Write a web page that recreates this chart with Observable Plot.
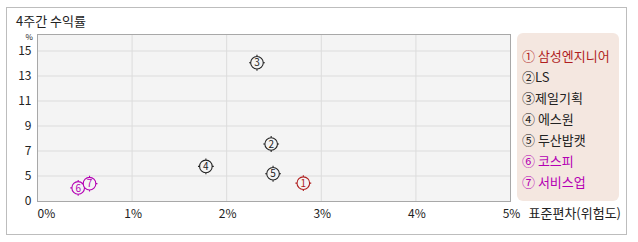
<!DOCTYPE html>
<html><head><meta charset="utf-8">
<script src="https://cdn.jsdelivr.net/npm/d3@7"></script>
<script src="https://cdn.jsdelivr.net/npm/@observablehq/plot@0.6"></script>
<style>
body{margin:0;background:#fff;font-family:"Noto Sans CJK KR","Noto Sans",sans-serif;}
#wrap{position:relative;width:638px;height:242px;overflow:hidden}
#frame{position:absolute;left:6px;top:7px;width:621px;height:228px;border:1px solid #bdbdbd;box-sizing:border-box}
#title{position:absolute;left:16px;top:14px;font-size:13px;color:#222;line-height:13px;height:13px}
#chart{position:absolute;left:0;top:0}
#legend{position:absolute;left:517px;top:33px;width:102px;height:168px;background:#f4e7e0;border-radius:6px;box-sizing:border-box;padding-top:12px}
#legend div{font-size:13px;line-height:21px;height:21px;padding-left:5px;white-space:nowrap}
</style></head>
<body>
<div id="wrap">
  <div id="frame"></div>
  <div id="title">4주간 수익률</div>
  <div id="chart"></div>
  <div id="legend"></div>
</div>
<script>
const names = ["삼성엔지니어","LS","제일기획","에스원","두산밥캣","코스피","서비스업"];
const marks = ["①","②","③","④","⑤","⑥","⑦"];
const digits = ["1","2","3","4","5","6","7"];
const groups = ["focus","peer","peer","peer","peer","market","market"];
const risk = [2.81, 2.47, 2.32, 1.78, 2.49, 0.43, 0.55];
const ret  = [3.6, 7.56, 14.06, 5.77, 5.18, 2.67, 3.5];
const xTicks = [0, 1, 2, 3, 4, 5];
const yTicks = [0, 5, 7, 9, 11, 13, 15];
const xTitle = "표준편차(위험도)";
const yUnit = "%";

const groupDomain = ["focus","peer","market"];
const groupColors = ["#b01e1e","#222222","#b400b4"];
const colorOf = g => groupColors[groupDomain.indexOf(g)];

const data = names.map((n,i)=>({name:n, mark:marks[i], digit:digits[i], group:groups[i], x:risk[i], y:ret[i]}));

const tickCircle = {
  draw(ctx, size) {
    const r = Math.sqrt(size / Math.PI);
    ctx.moveTo(r, 0);
    ctx.arc(0, 0, r, 0, 2 * Math.PI);
    const t = 1.6;
    ctx.moveTo(0, -r); ctx.lineTo(0, -r - t);
    ctx.moveTo(0, r); ctx.lineTo(0, r + t);
    ctx.moveTo(-r, 0); ctx.lineTo(-r - t, 0);
    ctx.moveTo(r, 0); ctx.lineTo(r + t, 0);
  }
};

const font = "'Noto Sans CJK KR', sans-serif";
const chart = Plot.plot({
  width: 638, height: 242,
  marginLeft: 37, marginRight: 128, marginTop: 34, marginBottom: 41,
  style: {fontFamily: font, fontSize: "12px", color: "#222", background: "transparent", overflow: "visible"},
  x: {type: "linear", domain: [0, 5], axis: null},
  y: {type: "linear", domain: [0, 5, 15], range: [201, 175.5, 50.5], axis: null},
  color: {type: "ordinal", domain: groupDomain, range: groupColors},
  marks: [
    Plot.frame({fill: "#f4f4f4", stroke: null}),
    Plot.ruleY(yTicks.filter(d => d > 0), {y: d => d, stroke: "#dcdcdc", strokeOpacity: 1}),
    Plot.ruleX(xTicks.filter(d => d > 0 && d < 5), {x: d => d, stroke: "#dcdcdc", strokeOpacity: 1}),
    Plot.frame({stroke: "#a8a8a8", strokeOpacity: 1}),
    Plot.text(yTicks, {y: d => d, text: d => String(d), frameAnchor: "left", dx: -6, textAnchor: "end", fill: "#222"}),
    Plot.text([yUnit], {text: d => d, frameAnchor: "top-left", dx: -12, dy: 0, fill: "#222", fontSize: 8}),
    Plot.text(xTicks.slice(0,1), {x: d => d, text: d => d + "%", frameAnchor: "bottom", dy: 16, textAnchor: "start", fill: "#222"}),
    Plot.text(xTicks.slice(1), {x: d => d, text: d => d + "%", frameAnchor: "bottom", dy: 16, dx: 1, fill: "#222"}),
    Plot.text([xTitle], {text: d => d, frameAnchor: "bottom-right", dx: 18, dy: 16, textAnchor: "start", fill: "#222", fontSize: 13}),
    Plot.dot(data, {x: "x", y: "y", r: 6.3, symbol: tickCircle, stroke: "group", fill: "#f4f4f4", strokeWidth: 1.1}),
    Plot.text(data, {x: "x", y: "y", text: "digit", fill: "group", fontSize: 10, dy: 0.5})
  ]
});
document.getElementById("chart").appendChild(chart);

const leg = document.getElementById("legend");
data.forEach(d => {
  const div = document.createElement("div");
  div.style.color = colorOf(d.group);
  div.textContent = d.mark + (d.name === "LS" || d.name === "제일기획" ? "" : " ") + d.name;
  leg.appendChild(div);
});
</script>
</body></html>
